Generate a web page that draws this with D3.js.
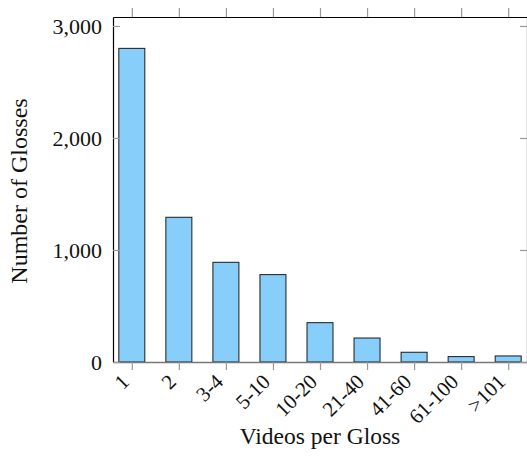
<!DOCTYPE html>
<html>
<head>
<meta charset="utf-8">
<script src="https://cdn.jsdelivr.net/npm/d3@7"></script>
<style>
  html, body { margin: 0; padding: 0; background: #fff; }
  text { font-family: "Liberation Serif", "Times New Roman", serif; fill: #111; }
</style>
</head>
<body>
<svg id="chart" width="527" height="456"></svg>
<script>
// Number of glosses by how many videos each gloss has
const categories = ["1", "2", "3-4", "5-10", "10-20", "21-40", "41-60", "61-100", ">101"];
const glossCounts = [2800, 1292, 890, 780, 351, 214, 87, 48, 54];
const yTicks = [0, 1000, 2000, 3000];

const svg = d3.select("#chart");
const plotLeft = 113, plotRight = 527, plotTop = 17, plotBottom = 362;

const x = d3.scaleLinear().domain([0.6, categories.length + 0.4]).range([plotLeft, plotRight]);
const y = d3.scaleLinear().domain([0, 3080]).range([plotBottom, plotTop]);
const barW = 26;
const fmt = d3.format(",");

// bars
svg.append("g").selectAll("rect").data(glossCounts).join("rect")
  .attr("x", (d, i) => x(i + 1) - barW / 2)
  .attr("y", d => y(d))
  .attr("width", barW)
  .attr("height", d => y(0) - y(d))
  .attr("fill", "#87CEFA")
  .attr("stroke", "#1a1a1a")
  .attr("stroke-width", 1);

// bottom axis: ticks below the baseline, rotated category labels
const xb = svg.append("g").attr("transform", `translate(0,${plotBottom})`)
  .call(d3.axisBottom(x).tickValues(d3.range(1, categories.length + 1))
    .tickSizeInner(8).tickSizeOuter(0).tickFormat(d => categories[d - 1]));
xb.select(".domain").attr("stroke", "#777").attr("stroke-width", 1.4);
xb.selectAll(".tick line").attr("stroke", "#999").attr("stroke-width", 1.2);
xb.selectAll(".tick text")
  .attr("font-size", 21)
  .attr("text-anchor", "end")
  .attr("fill", "#111")
  .attr("x", 0).attr("y", 0)
  .attr("dy", 0)
  .attr("transform", "translate(-2,21) rotate(-45)");

// top axis: tick marks only
const xt = svg.append("g").attr("transform", `translate(0,${plotTop})`)
  .call(d3.axisTop(x).tickValues(d3.range(1, categories.length + 1))
    .tickSizeInner(9).tickSizeOuter(0).tickFormat(""));
xt.select(".domain").attr("stroke", "#000").attr("stroke-width", 1.2);
xt.selectAll(".tick line").attr("stroke", "#999").attr("stroke-width", 1.2);

// left axis: inward ticks, numbers outside
const yl = svg.append("g").attr("transform", `translate(${plotLeft},0)`)
  .call(d3.axisLeft(y).tickValues(yTicks).tickSizeInner(-7).tickSizeOuter(0).tickPadding(11).tickFormat(fmt));
yl.select(".domain").attr("stroke", "#000").attr("stroke-width", 1.2);
yl.selectAll(".tick line").attr("stroke", "#999").attr("stroke-width", 1.2);
yl.selectAll(".tick text").attr("font-size", 22).attr("fill", "#111");

// right axis: inward ticks only
const yr = svg.append("g").attr("transform", `translate(${plotRight},0)`)
  .call(d3.axisRight(y).tickValues(yTicks).tickSizeInner(-7).tickSizeOuter(0).tickFormat(""));
yr.select(".domain").attr("stroke", "#000").attr("stroke-width", 1.2);
yr.selectAll(".tick line").attr("stroke", "#999").attr("stroke-width", 1.2);

// axis titles
svg.append("text")
  .attr("x", 320).attr("y", 444)
  .attr("text-anchor", "middle")
  .attr("font-size", 23.5)
  .text("Videos per Gloss");

svg.append("text")
  .attr("transform", `translate(27,191) rotate(-90)`)
  .attr("text-anchor", "middle")
  .attr("font-size", 24)
  .text("Number of Glosses");
</script>
</body>
</html>
